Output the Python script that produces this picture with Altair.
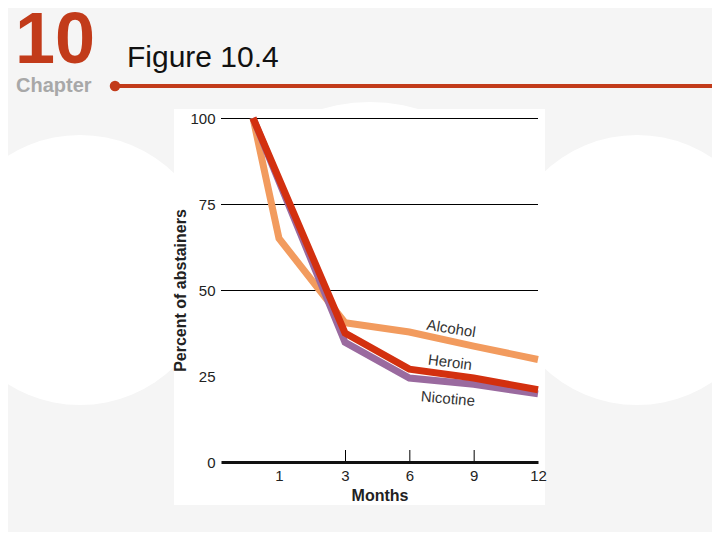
import altair as alt
import pandas as pd

# ---- data ----
alcohol_months = [0, 1, 3, 6, 9, 12]
alcohol_values = [100, 65, 40.5, 37.8, 33.7, 29.8]
heroin_months = [0, 3, 6, 9, 12]
heroin_values = [100, 37.5, 27.0, 24.4, 21.0]
nicotine_months = [0, 3, 6, 9, 12]
nicotine_values = [100, 34.8, 24.4, 22.6, 19.8]

x_tick_labels = [1, 3, 6, 9, 12]
x_tick_marks = [3, 6, 9]
y_tick_labels = [0, 25, 50, 75, 100]
y_grid = [50, 75, 100]

series_names = ["Alcohol", "Nicotine", "Heroin"]
series_colors = ["#F29B5E", "#9A6A9F", "#D3300F"]

label_text = ["Alcohol", "Heroin", "Nicotine"]
label_month = [7.95, 7.9, 7.8]
label_value = [38.8, 29.0, 18.4]
label_angle = [9, 7, 5]

W, H = 317, 344

rows = []
for name, ms, vs in [("Alcohol", alcohol_months, alcohol_values),
                     ("Nicotine", nicotine_months, nicotine_values),
                     ("Heroin", heroin_months, heroin_values)]:
    for m, v in zip(ms, vs):
        rows.append({"series": name, "month": m, "value": v})
df = pd.DataFrame(rows)

labels_df = pd.DataFrame({"label": label_text, "month": label_month,
                          "value": label_value, "angle": label_angle})
grid_df = pd.DataFrame({"v": y_grid})
tick_df = pd.DataFrame({"m": x_tick_marks})
one = pd.DataFrame({"k": [0]})

# piecewise month axis (the original figure is not evenly scaled in time)
xscale = alt.Scale(domain=[-1.23, 0, 1, 3, 12], range=[0, 32, 58, 124, W])
yscale = alt.Scale(domain=[0, 100], nice=False)

# ---- slide decorations (pixel positions relative to plot origin) ----
def circle(cx, cy, r):
    return alt.Chart(one).mark_circle(color="white", opacity=1).encode(
        x=alt.value(cx - 221), y=alt.value(cy - 118), size=alt.value((2 * r) ** 2))

bg = (circle(80, 270, 135) + circle(637, 270, 135) + circle(370, 272, 170))

panel = alt.Chart(one).mark_rect(color="white").encode(
    x=alt.value(174 - 221), x2=alt.value(545 - 221),
    y=alt.value(109 - 118), y2=alt.value(505 - 118))

big10 = alt.Chart(one).mark_text(
    text="10", font="Liberation Sans", fontWeight="bold",
    fontSize=72, color="#C23B1A", align="left", baseline="alphabetic").encode(
    x=alt.value(15 - 221), y=alt.value(63 - 118))
chapter = alt.Chart(one).mark_text(
    text="Chapter", font="Liberation Sans", fontWeight="bold",
    fontSize=20, color="#A8A8A8", align="left", baseline="alphabetic").encode(
    x=alt.value(16 - 221), y=alt.value(92 - 118))
title = alt.Chart(one).mark_text(
    text="Figure 10.4", font="Liberation Sans", fontSize=30, color="#111111",
    align="left", baseline="alphabetic").encode(
    x=alt.value(127 - 221), y=alt.value(67 - 118))
redline = alt.Chart(one).mark_rule(color="#C23B1A", strokeWidth=4).encode(
    x=alt.value(114 - 221), x2=alt.value(720 - 221), y=alt.value(86 - 118))
reddot = alt.Chart(one).mark_circle(color="#C23B1A", opacity=1).encode(
    x=alt.value(115 - 221), y=alt.value(86 - 118), size=alt.value(110))

# ---- chart ----
grid = alt.Chart(grid_df).mark_rule(color="#000000", strokeWidth=1, yOffset=0.5).encode(
    y=alt.Y("v:Q", scale=yscale), x=alt.value(0), x2=alt.value(W))

ticks = alt.Chart(tick_df).mark_rule(color="#000000", strokeWidth=1, xOffset=0.5).encode(
    x=alt.X("m:Q", scale=xscale), y=alt.value(H - 12), y2=alt.value(H))

lines = alt.Chart(df).mark_line(strokeWidth=7, strokeJoin="miter").encode(
    x=alt.X("month:Q", scale=xscale,
            axis=alt.Axis(values=x_tick_labels, title="Months", grid=False, ticks=False,
                          domainColor="#111111", domainWidth=3, labelFontSize=15,
                          labelFont="Liberation Sans", labelColor="#222222", labelPadding=6,
                          titleFont="Liberation Sans", titleFontSize=16, titleFontWeight="bold",
                          titleColor="#222222", titlePadding=4, labelFlush=False, zindex=1)),
    y=alt.Y("value:Q", scale=yscale,
            axis=alt.Axis(values=y_tick_labels, title="Percent of abstainers", grid=False,
                          ticks=False, domain=False, labelFontSize=15,
                          labelFont="Liberation Sans", labelColor="#222222", labelPadding=6,
                          titleFont="Liberation Sans", titleFontSize=16, titleFontWeight="bold",
                          titleColor="#222222", titlePadding=1, zindex=1)),
    color=alt.Color("series:N", scale=alt.Scale(domain=series_names, range=series_colors),
                    legend=None),
    order="month:Q",
)

lines_layer = alt.layer(*[
    lines.transform_filter(alt.datum.series == n) for n in series_names
])

labels = alt.Chart(labels_df).mark_text(
    font="Liberation Sans", fontSize=15, color="#333333").encode(
    x=alt.X("month:Q", scale=xscale),
    y=alt.Y("value:Q", scale=yscale),
    text="label:N",
    angle=alt.Angle("angle:Q", scale=None),
)

chart = alt.layer(
    bg, panel, big10, chapter, title, redline, reddot,
    grid, ticks, lines_layer, labels
).properties(
    width=W, height=H,
    padding={"left": 213, "top": 110, "right": 174, "bottom": 70},
    autosize="none",
    background="#F5F5F5",
).configure_view(stroke=None)

chart.save("out.html", embed_options={"renderer": "svg", "actions": False})
